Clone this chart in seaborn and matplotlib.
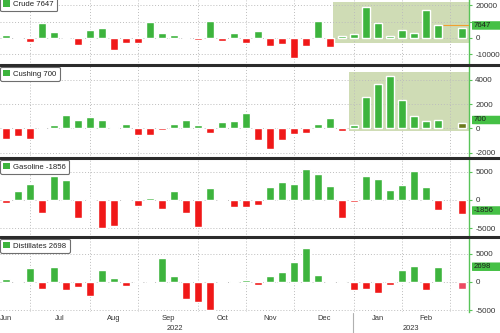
import numpy as np
import pandas as pd
import matplotlib
matplotlib.use("Agg")
import matplotlib.pyplot as plt
import matplotlib.transforms as mtransforms
from matplotlib.patches import Patch, Rectangle, FancyBboxPatch
from matplotlib.lines import Line2D
import seaborn as sns

sns.set_theme(style="white")
plt.rcParams['font.family'] = ['Liberation Sans', 'DejaVu Sans']

nan = np.nan
weeks = list(range(39))  # weekly slots, Jun 2022 - Feb 2023 (slot 37 has no report)

crude = [2000, -300, -2700, 9000, 3500, -200, -4300, 4900, 6100, -7100,
         -3000, -3000, 9600, 3100, 1700, -200, -1300, 10600, -1700, 3100,
         -3000, 4200, -5000, -3400, -12400, -4800, 10600, -5400, 1400, 2200,
         19000, 9200, 1000, 4600, 3200, 17200, 7647, nan, 6000]
cushing = [-870, -600, -870, 30, 270, 1140, 730, 930, 680, 160,
           410, -570, -540, -160, 330, 680, 270, -330, 540, 630,
           1250, -970, -1710, -910, -430, -370, 410, 870, -220, 250,
           2580, 3670, 4350, 2340, 1030, 650, 700, nan, 460]
gasoline = [-590, 1600, 2820, -2350, 4300, 3530, -3180, 180, -4880, -4590,
            -60, -1060, 410, -1590, 1650, -2350, -4710, 2060, -60, -1290,
            -1180, -890, 2260, 3210, 2860, 5480, 4580, 2560, -3100, -300,
            4170, 3630, 1850, 2680, 5180, 2380, -1856, nan, -2560]
distillates = [590, 60, 2470, -1290, 2590, -1350, -880, -2530, 2060, 710,
               -760, 40, 40, 4240, 1120, -3060, -3530, -5000, 50, 100,
               350, -530, 1000, 1710, 3470, 6060, 1290, -80, 120, -1410,
               -1180, -1940, -530, 2180, 2820, -1350, 2698, nan, -1240]

series_names = ["Crude", "Cushing", "Gasoline", "Distillates"]
latest = [7647, 700, -1856, 2698]

month_labels = ["Jun", "Jul", "Aug", "Sep", "Oct", "Nov", "Dec", "Jan", "Feb"]
month_starts = [2, 7, 11, 16, 20, 24, 29, 33, 37]
year_labels = ["2022", "2023"]

GREEN = "#3db43d"
RED = "#f01818"
AXGREEN = "#58c458"
SHADE = "#cfdcb5"
TAG = "#45c045"

W, H = 500, 333
fig = plt.figure(figsize=(5, 3.33), dpi=100)

# panel pixel extents (top, bottom)
extents = [(0, 65), (65, 158), (158, 237), (237, 312)]
ylims = [(-16500, 23200), (-2430, 5230), (-6540, 7420), (-5300, 7950)]
yticks = [[-10000, 0, 10000, 20000], [-2000, 0, 2000, 4000],
          [-5000, 0, 5000], [-5000, 0, 5000]]
hidden_tick = {0: 10000}  # label covered by the value tag
shades = {0: (27.25, -3200, 22100), 1: (28.6, -205, 4670)}
last_colors = {1: "#6b7a1c", 3: "#ec4a62"}
XR = 469 / W
xlim = (-0.5, 38.58)

all_series = [crude, cushing, gasoline, distillates]
axes = []
for k, (name, vals) in enumerate(zip(series_names, all_series)):
    top, bot = extents[k]
    hpx = bot - top
    ax = fig.add_axes([0, 1 - bot / H, XR, hpx / H])
    axes.append(ax)
    df = pd.DataFrame({"week": weeks, "value": vals})
    kinds = []
    for w, v in zip(weeks, vals):
        if w == 38 and k in last_colors:
            kinds.append("last")
        else:
            kinds.append("pos" if v >= 0 else "neg")
    df["kind"] = kinds
    df = df.dropna()
    pal = {"pos": GREEN, "neg": RED, "last": last_colors.get(k, GREEN)}
    if k in shades:
        x0, y0, y1 = shades[k]
        ax.add_patch(Rectangle((x0, y0), 40 - x0, y1 - y0, facecolor=SHADE,
                               edgecolor="none", zorder=0.3))
    sns.barplot(data=df, x="week", y="value", hue="kind", palette=pal,
                dodge=False, native_scale=True, width=0.72, legend=False,
                saturation=1, errorbar=None, ax=ax, zorder=2)
    ax.set_xlim(*xlim)
    ax.set_ylim(*ylims[k])
    ax.set_yticks(yticks[k])
    ax.set_yticklabels(["" if hidden_tick.get(k) == t else str(t)
                        for t in yticks[k]])
    ax.set_xticks(month_starts)
    ax.set_xticklabels([])
    ax.set_xlabel("")
    ax.set_ylabel("")
    ax.set_axisbelow(True)
    ax.grid(True, ls=(0, (1, 2)), color="#bdbdbd", lw=0.7)
    ax.yaxis.set_ticks_position("right")
    ax.tick_params(axis="y", colors=AXGREEN, labelcolor="#333333", length=2.5,
                   width=0.8, pad=2, labelsize=5.8, direction="out")
    for s in ["left", "top", "bottom"]:
        ax.spines[s].set_visible(False)
    ax.spines["right"].set_color(AXGREEN)
    ax.spines["right"].set_linewidth(1)
    ax.patch.set_alpha(0)

    if k == 3:
        ax.tick_params(axis="x", colors="#9a9a9a", length=3, width=0.7,
                       direction="out", pad=1)
    else:
        ax.tick_params(axis="x", length=0)

    # legend box
    anchor_y = 1 + (4.4 / hpx if k == 0 else 0)
    leg = ax.legend(handles=[Patch(facecolor=GREEN, edgecolor="none")],
                    labels=[f"{name} {latest[k]}"], loc="upper left",
                    bbox_to_anchor=(-0.003, anchor_y), borderaxespad=0.2,
                    fontsize=5.6, handlelength=0.9, handleheight=0.9,
                    handletextpad=0.4, borderpad=0.4, frameon=True,
                    fancybox=True, framealpha=1)
    leg.get_frame().set_edgecolor("#6e6e6e")
    leg.get_frame().set_linewidth(0.8)
    for t in leg.get_texts():
        t.set_color("#222222")

    # value tag on the right axis: pill running to the figure edge
    ymin, ymax = ylims[k]
    yfrac = (latest[k] - ymin) / (ymax - ymin)
    tag_h = 8.5 / hpx
    ax.add_patch(FancyBboxPatch((1 + 3 / 469, yfrac - tag_h / 2),
                                40 / 469, tag_h, transform=ax.transAxes,
                                boxstyle="round,pad=0,rounding_size=0.01",
                                facecolor=TAG, edgecolor="none",
                                clip_on=False, zorder=9,
                                mutation_aspect=hpx / 469))
    ax.text(1 + 5 / 469, yfrac, f"{latest[k]}", transform=ax.transAxes,
            va="center", ha="left", fontsize=5.6, color="#1e1e1e",
            clip_on=False, zorder=10)
    if k == 0:
        ax.hlines(latest[k], 36.4, 38.6, color="#f0a030", lw=0.8, zorder=3)

# month and year labels under bottom panel
axb = axes[3]
trb = mtransforms.blended_transform_factory(axb.transData, axb.transAxes)
bounds = [-2] + month_starts
for i, lab in enumerate(month_labels):
    mid = (bounds[i] + bounds[i + 1]) / 2
    axb.text(mid, -7 / 75, lab, transform=trb, ha="center", va="center",
             fontsize=5.4, color="#333333", clip_on=False)
axb.text(14.1, -16 / 75, year_labels[0], transform=trb, ha="center",
         va="center", fontsize=5.4, color="#333333", clip_on=False)
axb.text(33.75, -16 / 75, year_labels[1], transform=trb, ha="center",
         va="center", fontsize=5.4, color="#333333", clip_on=False)

# year divider
fig.add_artist(Line2D([353 / W, 353 / W], [0, (H - 313) / H],
                      transform=fig.transFigure, color="#b0b0b0", lw=0.8))

# dark separators between panels
for y in [65, 158, 237]:
    fig.add_artist(Line2D([0, 1], [1 - y / H, 1 - y / H],
                          transform=fig.transFigure, color="#2b2b2b", lw=2.2))

fig.savefig("out.png", dpi=100)
